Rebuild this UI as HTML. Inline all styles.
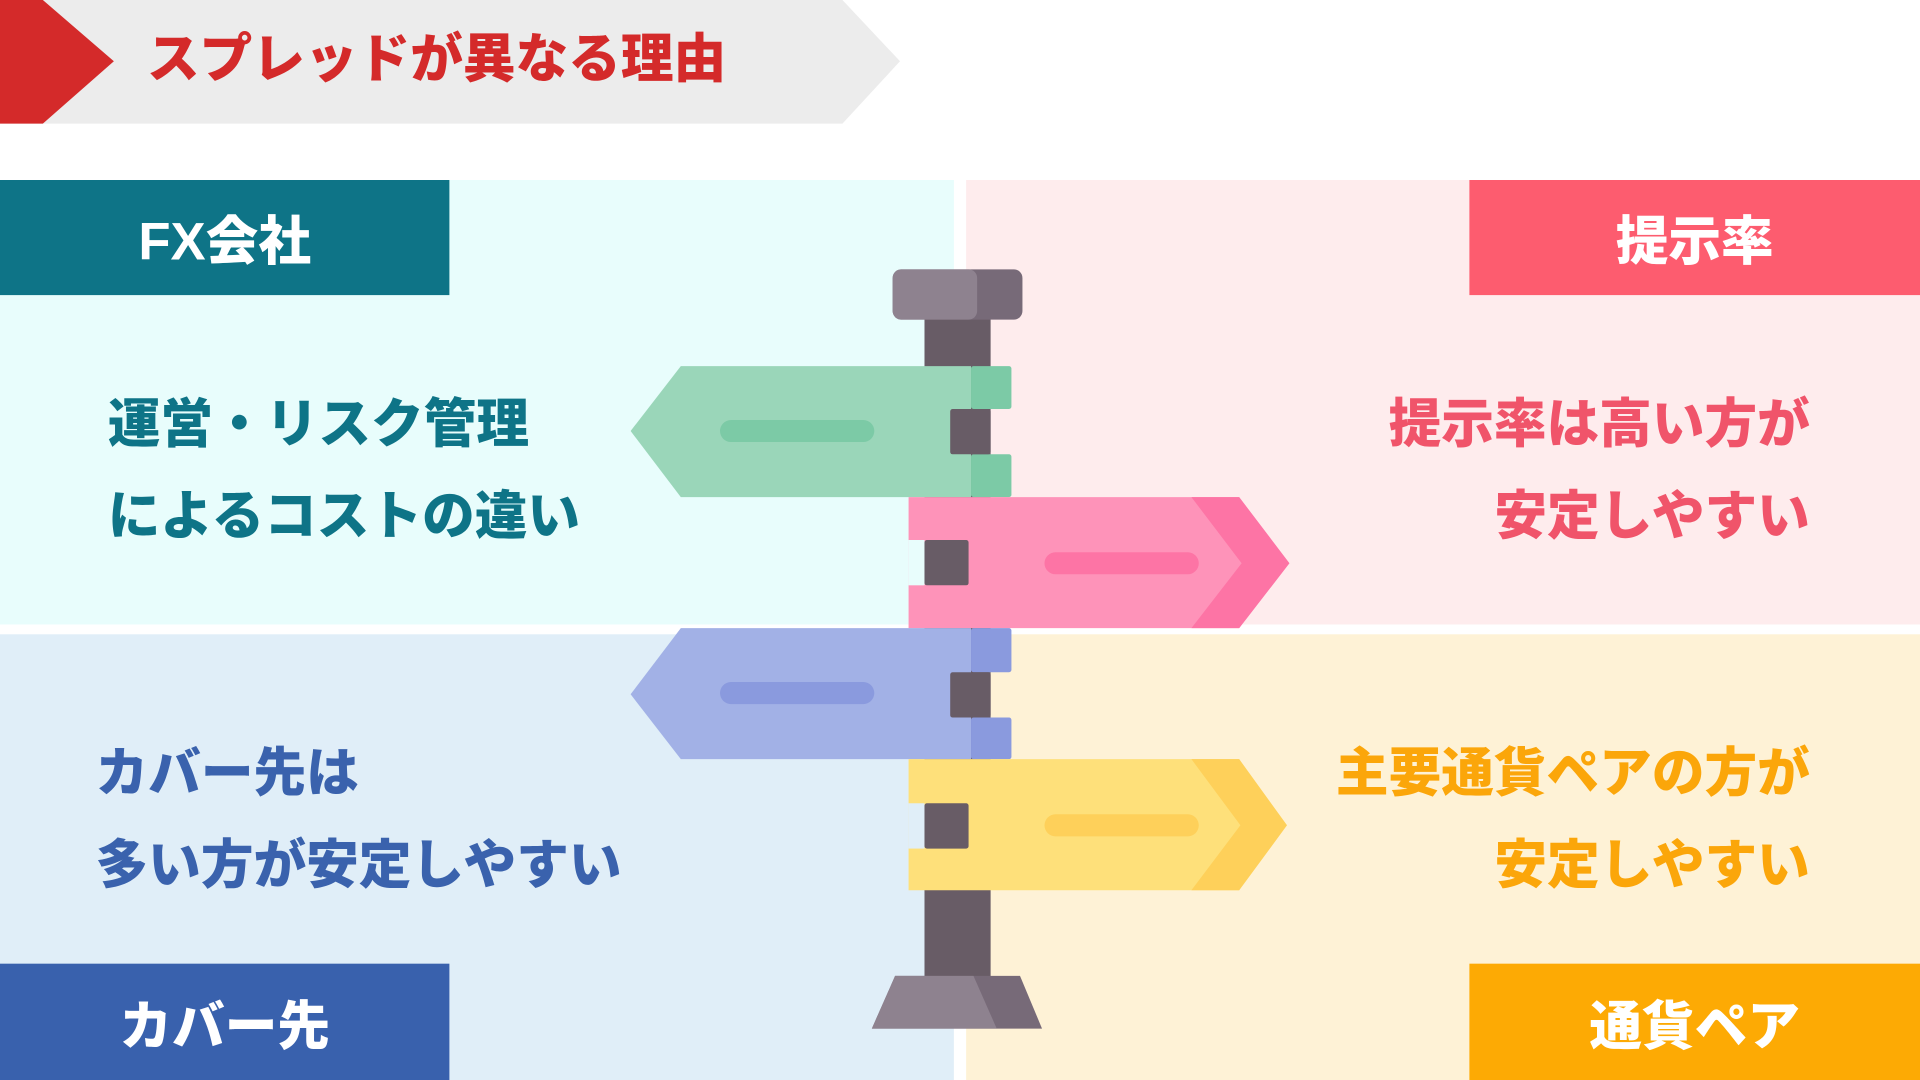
<!DOCTYPE html>
<html><head><meta charset="utf-8"><style>
html,body{margin:0;padding:0;width:1920px;height:1080px;overflow:hidden;background:#fff}
#w{position:absolute;left:0;top:0;width:1568px;height:882px;transform:scale(1.22449);transform-origin:0 0;font-family:"Liberation Sans","Noto Sans CJK JP",sans-serif;font-weight:900}
.p{position:absolute}
.lab{position:absolute;color:#fff;font-size:43px;display:flex;align-items:center;justify-content:center}
.t{position:absolute;font-size:43px;line-height:75px;white-space:nowrap}
</style></head><body><div id="w">
<svg class="p" style="left:0;top:0" width="1568" height="882">
<polygon points="0,0,688,0,735,50,688,101,0,101" fill="#ececec"/>
<polygon points="0,0,35,0,93,50,35,101,0,101" fill="#d42a2a"/>
<rect x="0" y="147" width="779" height="363" fill="#e8fdfc"/>
<rect x="789" y="147" width="779" height="363" fill="#feeced"/>
<rect x="0" y="518" width="779" height="364" fill="#e0eef8"/>
<rect x="789" y="518" width="779" height="364" fill="#fef2d6"/>
<rect x="0" y="147" width="367" height="94" fill="#0e7487"/>
<rect x="1200" y="147" width="368" height="94" fill="#fd5c6f"/>
<rect x="0" y="787" width="367" height="95" fill="#3961ad"/>
<rect x="1200" y="787" width="368" height="95" fill="#fdaa04"/>
<!-- pole -->
<rect x="755" y="255" width="54" height="550" fill="#685c66"/>
<rect x="729" y="220" width="106" height="41" rx="7" fill="#776a78"/>
<rect x="729" y="220" width="69" height="41" rx="7" fill="#8e828f"/>
<polygon points="712,840,731,797,833,797,851,840" fill="#776a78"/>
<polygon points="712,840,731,797,795,797,814,840" fill="#8e828f"/>
<!-- green -->
<polygon points="515,352,556,299,793,299,793,406,556,406" fill="#9ad6b9"/>
<rect x="793" y="299" width="33" height="35" rx="2" fill="#7ccaa6"/>
<rect x="793" y="371" width="33" height="35" rx="2" fill="#7ccaa6"/>
<rect x="776" y="334" width="33" height="37" rx="2" fill="#685c66"/>
<line x1="597" y1="352" x2="705" y2="352" stroke="#7ccaa6" stroke-width="18" stroke-linecap="round"/>
<!-- pink -->
<polygon points="742,406,1012,406,1053,460,1012,513,742,513" fill="#fe93b9"/>
<polygon points="973,406,1012,406,1053,460,1012,513,973,513,1014,460" fill="#fd74a5"/>
<rect x="742" y="441" width="13" height="37" fill="#e8fdfc"/>
<rect x="755" y="441" width="36" height="37" rx="2" fill="#685c66"/>
<line x1="862" y1="460" x2="970" y2="460" stroke="#fd74a5" stroke-width="18" stroke-linecap="round"/>
<!-- blue -->
<polygon points="515,567,556,513,793,513,793,620,556,620" fill="#a2b1e6"/>
<rect x="793" y="513" width="33" height="36" rx="2" fill="#8a9ade"/>
<rect x="793" y="586" width="33" height="34" rx="2" fill="#8a9ade"/>
<rect x="776" y="549" width="33" height="37" rx="2" fill="#685c66"/>
<line x1="597" y1="566" x2="705" y2="566" stroke="#8a9ade" stroke-width="18" stroke-linecap="round"/>
<!-- yellow -->
<polygon points="742,620,1012,620,1051,674,1012,727,742,727" fill="#fee07a"/>
<polygon points="973,620,1012,620,1051,674,1012,727,973,727,1013,674" fill="#fed05a"/>
<rect x="742" y="656" width="13" height="37" fill="#e0eef8"/>
<rect x="755" y="656" width="36" height="37" rx="2" fill="#685c66"/>
<line x1="862" y1="674" x2="970" y2="674" stroke="#fed05a" stroke-width="18" stroke-linecap="round"/>
</svg>
<div class="t" style="left:120px;top:12px;color:#d42a2a">スプレッドが異なる理由</div>
<div class="lab" style="left:0;top:147px;width:367px;height:94px">FX会社</div>
<div class="lab" style="left:1200px;top:147px;width:368px;height:94px">提示率</div>
<div class="lab" style="left:0;top:787px;width:367px;height:95px">カバー先</div>
<div class="lab" style="left:1200px;top:787px;width:368px;height:95px">通貨ペア</div>
<div class="t" style="left:88px;top:310px;color:#0e7487">運営・リスク管理<br>によるコストの違い</div>
<div class="t" style="right:90px;top:310px;color:#f0546a;text-align:right">提示率は高い方が<br>安定しやすい</div>
<div class="t" style="left:78px;top:595px;color:#3a62ad">カバー先は<br>多い方が安定しやすい</div>
<div class="t" style="right:90px;top:595px;color:#fba60a;text-align:right">主要通貨ペアの方が<br>安定しやすい</div>
</div></body></html>
